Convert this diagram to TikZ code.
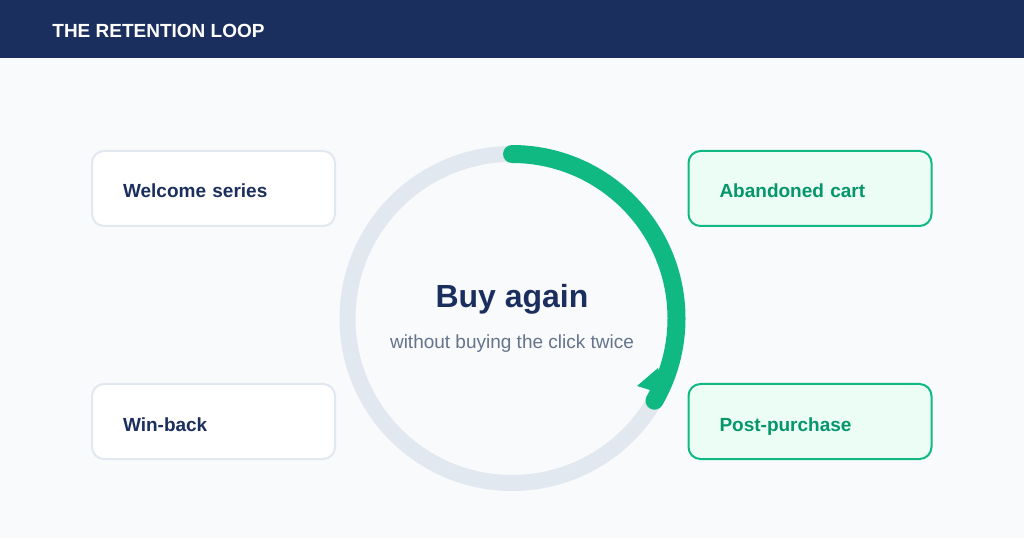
\documentclass[tikz,border=0pt]{standalone}
\usepackage{fontspec}
\setmainfont{Liberation Sans}
\usepackage{tikz}
\usetikzlibrary{shapes.geometric, arrows}

\definecolor{navy}{HTML}{1B2F5E}
\definecolor{pagebg}{HTML}{F8FAFC}
\definecolor{ringgray}{HTML}{E2E8F0}
\definecolor{loopgreen}{HTML}{10B981}
\definecolor{darkgreen}{HTML}{059669}
\definecolor{mint}{HTML}{ECFDF5}
\definecolor{slate}{HTML}{64748B}

\begin{document}
\begin{tikzpicture}[x=1pt,y=1pt,thick,
  card/.style={rectangle,rounded corners=12pt,line width=2pt,minimum height=75pt,
    text width=181pt,inner xsep=31pt,align=left,text height=19pt,text depth=0pt,
    font=\fontsize{19}{22}\selectfont\bfseries}]
\tikzstyle{plain card} = [card, draw=ringgray, fill=white, text=navy]
\tikzstyle{green card} = [card, draw=loopgreen, fill=mint, text=darkgreen]

% page and header band
\fill[pagebg] (0,0) rectangle (1024,538);
\fill[navy] (0,480) rectangle (1024,538);
\node (title) at (52,500.7) [anchor=base west,inner sep=0pt,text=white,font=\fontsize{19}{22}\selectfont\bfseries] {THE RETENTION LOOP};

% ring
\coordinate (hub) at (512,219.5);
\draw[ringgray,line width=16pt] (hub) circle (164.5);
\draw[loopgreen,line width=18pt,line cap=round] (hub) ++(90:164.5) arc (90:-30:164.5) coordinate (tip);
\fill[loopgreen] (637,152) -- (658,170) -- (666,143) -- cycle;

\node (buy) at (512,230) [anchor=base,inner sep=0pt,text=navy,font=\fontsize{32}{36}\selectfont\bfseries] {Buy again};
\node (sub) at (512,189) [anchor=base,inner sep=0pt,text=slate,font=\fontsize{19}{22}\selectfont] {without buying the click twice};

% the four cards
\node (welcome) at (213.5,349.5) [plain card] {Welcome series};
\node (winback) at (213.5,116.5) [plain card] {Win-back};
\node (cart) at (810,349.5) [green card] {Abandoned cart};
\node (post) at (810,116.5) [green card] {Post-purchase};

\useasboundingbox (0,0) rectangle (1024,538);
\end{tikzpicture}
\end{document}
